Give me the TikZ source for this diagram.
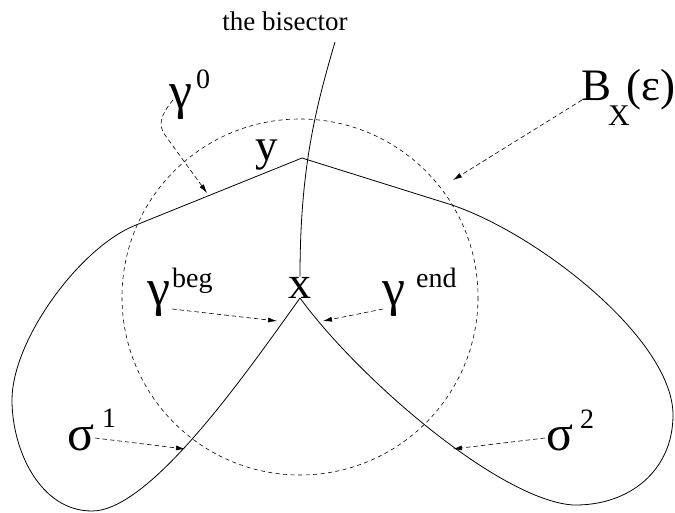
\documentclass[tikz,border=0pt]{standalone}
\usepackage{fontspec}
\setmainfont{Liberation Serif}
\usetikzlibrary{arrows.meta}
\tikzset{
  curve/.style={line width=0.8pt, black},
  ball/.style={line width=0.6pt, dash pattern=on 4pt off 3.5pt},
  pointer/.style={line width=0.6pt, dash pattern=on 4.5pt off 3pt, -{Latex[length=9pt,width=5pt]}},
  lbl/.style={inner sep=0pt, anchor=base west, font=\fontsize{45}{48}\selectfont},
  small/.style={inner sep=0pt, anchor=base, font=\fontsize{27}{29}\selectfont},
}
\newcommand{\supr}[2]{\raisebox{#1}{\fontsize{28}{30}\selectfont #2}}
\newcommand{\gam}{{\fontsize{52}{54}\selectfont γ}}
\newcommand{\sig}{{\fontsize{50}{52}\selectfont σ}}
\begin{document}
\begin{tikzpicture}[x=1pt,y=-1pt]
\useasboundingbox (0,0) rectangle (675,512);
% points
\coordinate (Y) at (302,158);
\coordinate (X) at (300,298);
\coordinate (O) at (300,297);
% ball
\draw[ball] (O) circle[radius=178];
% left loop
\draw[curve] (X) .. controls (245,375) and (150,511) .. (92,511)
  .. controls (40,511) and (12,450) .. (12,400)
  .. controls (12,340) and (80,247) .. (136,225) -- (Y);
% right loop
\draw[curve] (Y) -- (452,205)
  .. controls (540,235) and (673,340) .. (673,415)
  .. controls (673,470) and (630,506) .. (573,505)
  .. controls (500,500) and (360,380) .. (X);
% labels
\node[small] (bis) at (285,30) {the bisector};
\node[lbl] (yl) at (255,160) {y};
\node[inner sep=0pt, anchor=base, font=\fontsize{46}{48}\selectfont] (xl) at (300,298) {x};
\node[lbl] (g0) at (169,108) {\gam\hspace{4pt}\supr{20pt}{0}};
\node[lbl] (gbeg) at (147,305) {\gam\hspace{2pt}\supr{18pt}{beg}};
\node[lbl] (gend) at (382,305) {\gam\hspace{11pt}\supr{18pt}{end}};
\node[lbl] (s1) at (67,450) {\sig\hspace{8pt}\supr{23pt}{1}};
\node[lbl] (s2) at (546,450) {\sig\hspace{7pt}\supr{22pt}{2}};
\node[lbl] (bx) at (581,100) {B\hspace{-3pt}\raisebox{-25pt}{\fontsize{30}{32}\selectfont X}\hspace{-3pt}(ε)};
% bisector
\draw[curve] (335,42) .. controls (315,110) and (300,170) .. (xl.north);
% pointers
\coordinate (g0s) at (173,100);
\coordinate (g0t) at (207,193);
\draw[pointer] (g0s) .. controls (160,116) and (158,125) .. (165,135) -- (g0t);
\coordinate (bxs) at (582,100);
\coordinate (bxt) at (453,180);
\draw[pointer] (bxs) -- (bxt);
\coordinate (gbs) at (172,309);
\coordinate (gbt) at (277,321);
\draw[pointer] (gbs) -- (gbt);
\coordinate (ges) at (383,309);
\coordinate (get) at (323,321);
\draw[pointer] (ges) -- (get);
\coordinate (s1s) at (95,438);
\coordinate (s1t) at (185,449);
\draw[pointer] (s1s) -- (s1t);
\coordinate (s2s) at (545,438);
\coordinate (s2t) at (453,449);
\draw[pointer] (s2s) -- (s2t);
\end{tikzpicture}
\end{document}
